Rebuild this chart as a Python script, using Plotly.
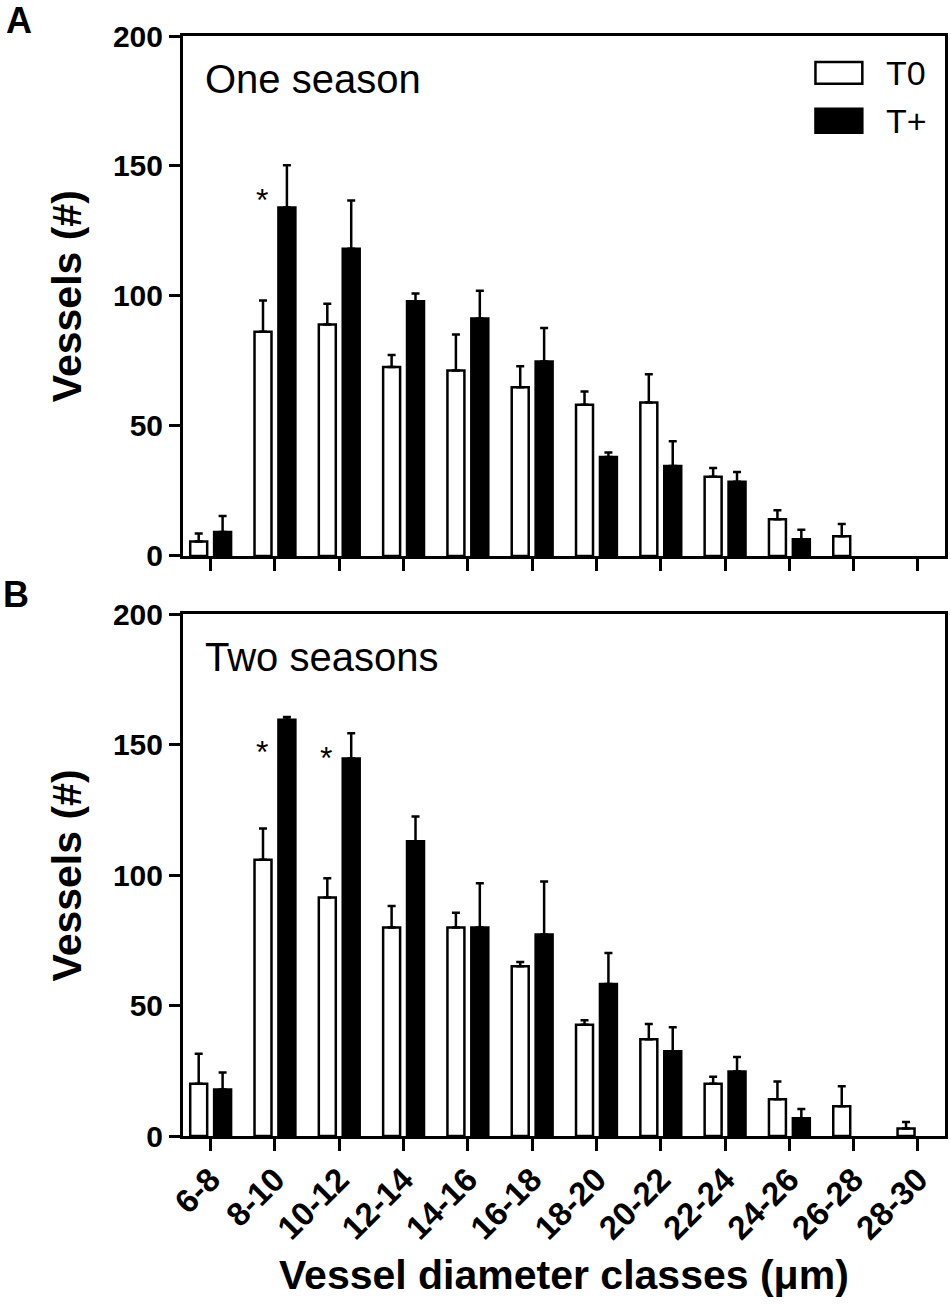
import plotly.graph_objects as go
from plotly.subplots import make_subplots

# diameter classes (um)
classes = ["6-8", "8-10", "10-12", "12-14", "14-16", "16-18",
           "18-20", "20-22", "22-24", "24-26", "26-28", "28-30"]

# A: one season (None = no vessels in that class)
one_t0 = [5.6, 86.2, 89.0, 72.7, 71.3, 64.9, 58.2, 59.0, 30.5, 14.1, 7.6, None]
one_t0_err = [3.0, 12.1, 8.0, 4.6, 13.9, 8.1, 5.1, 10.9, 3.3, 3.5, 4.7, 0]
one_tp = [9.2, 134.0, 118.2, 98.0, 91.3, 74.8, 38.1, 34.6, 28.5, 6.4, None, None]
one_tp_err = [6.2, 16.3, 18.5, 3.0, 10.7, 12.9, 1.7, 9.5, 3.8, 3.7, 0, 0]

# B: two seasons
two_t0 = [20.0, 105.9, 91.5, 80.0, 80.0, 65.1, 42.7, 37.1, 20.0, 14.1, 11.4, 2.9]
two_t0_err = [11.5, 12.0, 7.3, 8.2, 5.6, 1.6, 1.7, 5.9, 2.7, 6.8, 7.7, 2.5]
two_tp = [17.8, 159.6, 144.8, 113.0, 80.0, 77.3, 58.3, 32.5, 24.7, 6.8, None, None]
two_tp_err = [6.6, 1.1, 9.7, 9.5, 16.9, 20.3, 11.9, 9.2, 5.6, 3.6, 0, 0]

# significance stars (class, height)
stars_one = [("8-10", 139)]
stars_two = [("8-10", 149), ("10-12", 147)]

FONT = "Arial, Liberation Sans, sans-serif"

fig = make_subplots(rows=2, cols=1, vertical_spacing=0.05)


def add_pair(row, t0, t0_err, tp, tp_err):
    zeros = [0] * len(classes)
    fig.add_trace(go.Bar(
        x=classes, y=t0, name="T0", showlegend=False,
        marker=dict(color="white", line=dict(color="black", width=2.5)),
        error_y=dict(type="data", symmetric=False, array=t0_err,
                     arrayminus=zeros, color="black", thickness=2.5, width=4),
    ), row=row, col=1)
    fig.add_trace(go.Bar(
        x=classes, y=tp, name="T+", showlegend=False,
        marker=dict(color="black", line=dict(color="black", width=2.5)),
        error_y=dict(type="data", symmetric=False, array=tp_err,
                     arrayminus=zeros, color="black", thickness=2.5, width=4),
    ), row=row, col=1)


add_pair(1, one_t0, one_t0_err, one_tp, one_tp_err)
add_pair(2, two_t0, two_t0_err, two_tp, two_tp_err)

axis_common = dict(showline=True, linecolor="black", linewidth=3, mirror=True,
                   ticks="outside", tickcolor="black", tickwidth=3,
                   showgrid=False, zeroline=False)

fig.update_xaxes(type="category", categoryorder="array", categoryarray=classes,
                 range=[-0.43, 11.42], ticklen=12, **axis_common)
fig.update_xaxes(showticklabels=False, row=1, col=1)
fig.update_xaxes(tickangle=-45, row=2, col=1, ticklabelstandoff=-4,
                 tickfont=dict(family=FONT, size=33, color="black", weight="bold"))
fig.update_yaxes(range=[0, 200], tickvals=[0, 50, 100, 150, 200], ticklen=11,
                 tickfont=dict(family=FONT, size=30, color="black", weight="bold"),
                 **axis_common)

fig.update_layout(
    xaxis=dict(domain=[0, 1]), xaxis2=dict(domain=[0, 1]),
    yaxis=dict(domain=[0.5273, 1]), yaxis2=dict(domain=[0, 0.4741]),
)

annotations = []
for yref, label in [("y", "One season"), ("y2", "Two seasons")]:
    annotations.append(dict(text=label, xref="x domain", yref=yref + " domain",
                            x=0.026, y=0.918, xanchor="left", yanchor="middle",
                            showarrow=False,
                            font=dict(family=FONT, size=40, color="black")))
    annotations.append(dict(text="<b>Vessels (#)</b>", xref="paper",
                            yref=yref + " domain", x=-0.152, y=0.5,
                            xanchor="center", yanchor="middle", textangle=-90,
                            showarrow=False,
                            font=dict(family=FONT, size=41, color="black")))

for xref, yref, stars in [("x", "y", stars_one), ("x2", "y2", stars_two)]:
    for cls, h in stars:
        annotations.append(dict(text="*", xref=xref, yref=yref, x=cls, y=h,
                                xshift=-13, yshift=-5, showarrow=False,
                                font=dict(family=FONT, size=32, color="black")))

# panel letters
annotations.append(dict(text="<b>A</b>", xref="paper", yref="paper",
                        x=-0.235, y=1.035, xanchor="left", yanchor="top",
                        showarrow=False, font=dict(family=FONT, size=36, color="black")))
annotations.append(dict(text="<b>B</b>", xref="paper", yref="paper",
                        x=-0.239, y=0.5125, xanchor="left", yanchor="top",
                        showarrow=False, font=dict(family=FONT, size=36, color="black")))

# x axis title
annotations.append(dict(text="<b>Vessel diameter classes (\u03bcm)</b>",
                        xref="paper", yref="paper", x=0.5, y=-0.126,
                        xanchor="center", yanchor="middle", showarrow=False,
                        font=dict(family=FONT, size=41, color="black")))

# legend drawn by hand in panel A
shapes = []
for (y0, y1, fill, label, ty) in [(0.908, 0.950, "white", "T0", 0.929),
                                  (0.814, 0.860, "black", "T+", 0.837)]:
    shapes.append(dict(type="rect", xref="x domain", yref="y domain",
                       x0=0.830, x1=0.8915, y0=y0, y1=y1, fillcolor=fill,
                       line=dict(color="black", width=2.5)))
    annotations.append(dict(text=label, xref="x domain", yref="y domain",
                            x=0.92, y=ty, xanchor="left", yanchor="middle",
                            showarrow=False,
                            font=dict(family=FONT, size=34, color="black")))

fig.update_layout(
    width=951, height=1305,
    margin=dict(l=183, r=3, t=36, b=169),
    barmode="group", bargap=0.2565, bargroupgap=0.29,
    plot_bgcolor="white", paper_bgcolor="white",
    showlegend=False,
    annotations=annotations, shapes=shapes,
    font=dict(family=FONT, color="black"),
)

# page body has a default 8px margin; drop it so the figure sits at 0,0
fig.write_html("out.html", config={"displayModeBar": False},
               post_script="document.body.style.margin='0';")
